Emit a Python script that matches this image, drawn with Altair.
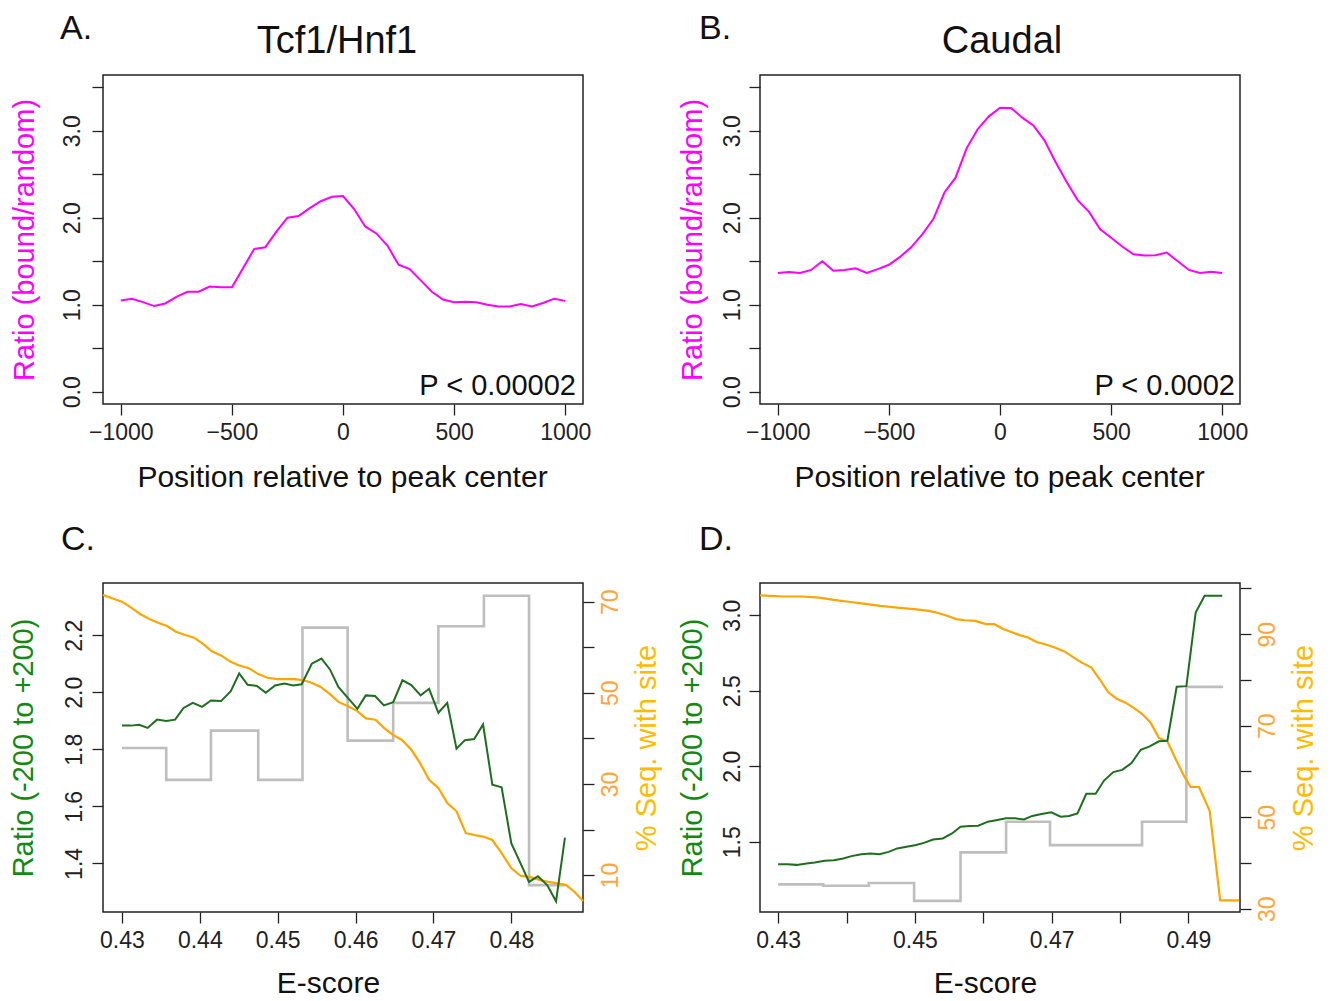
import altair as alt
import pandas as pd

# ---------------- data ----------------
pos = [-1000, -950, -900, -850, -800, -750, -700, -650, -600, -550, -500,
       -450, -400, -350, -300, -250, -200, -150, -100, -50, 0,
       50, 100, 150, 200, 250, 300, 350, 400, 450, 500,
       550, 600, 650, 700, 750, 800, 850, 900, 950, 1000]
tcf_ratio = [1.05, 1.07, 1.03, 0.985, 1.015, 1.09, 1.15, 1.15, 1.21, 1.20, 1.20,
             1.42, 1.64, 1.66, 1.84, 2.00, 2.02, 2.11, 2.19, 2.24, 2.25,
             2.10, 1.90, 1.82, 1.68, 1.46, 1.41, 1.28, 1.15, 1.06, 1.03,
             1.035, 1.03, 1.00, 0.98, 0.98, 1.01, 0.98, 1.02, 1.07, 1.045]
caudal_ratio = [1.365, 1.377, 1.365, 1.40, 1.50, 1.39, 1.40, 1.42, 1.365, 1.41, 1.46,
                1.55, 1.66, 1.81, 1.985, 2.29, 2.46, 2.80, 3.02, 3.165, 3.265,
                3.26, 3.15, 3.06, 2.89, 2.64, 2.41, 2.20, 2.07, 1.87, 1.77,
                1.67, 1.58, 1.565, 1.57, 1.60, 1.50, 1.40, 1.365, 1.38, 1.365]

# Panel C
c_green_e = [0.4300, 0.43114, 0.43222, 0.4333, 0.4345, 0.43569, 0.43683, 0.43791, 0.4391, 0.44029,
             0.44143, 0.44273, 0.44398, 0.44506, 0.44614, 0.44733, 0.44847, 0.44966, 0.45086, 0.45199,
             0.45308, 0.45438, 0.45562, 0.45671, 0.45779, 0.45898, 0.46023, 0.46131, 0.4625, 0.46364,
             0.46483, 0.46602, 0.46716, 0.46835, 0.46944, 0.47063, 0.47177, 0.47296, 0.47404, 0.47523,
             0.47637, 0.47756, 0.47875, 0.4800, 0.48108, 0.48227, 0.48341, 0.4846, 0.48574, 0.48688]
c_green_r = [1.883, 1.883, 1.886, 1.875, 1.904, 1.899, 1.904, 1.945, 1.963, 1.949,
             1.971, 1.969, 2.004, 2.066, 2.026, 2.022, 1.998, 2.024, 2.031, 2.024,
             2.028, 2.100, 2.118, 2.080, 2.019, 1.981, 1.942, 1.989, 1.987, 1.954,
             1.965, 2.042, 2.025, 1.989, 2.012, 1.928, 1.963, 1.802, 1.832, 1.836,
             1.887, 1.676, 1.667, 1.470, 1.406, 1.335, 1.355, 1.324, 1.267, 1.490]
c_orange_e = [0.42756, 0.42881, 0.4300, 0.43114, 0.43233, 0.43352, 0.43466, 0.43585, 0.43693, 0.43813,
              0.43926, 0.44045, 0.44154, 0.44273, 0.44398, 0.44506, 0.44631, 0.4475, 0.44869, 0.44993,
              0.45102, 0.4521, 0.45318, 0.45438, 0.45551, 0.45671, 0.45779, 0.45898, 0.46023, 0.46131,
              0.46256, 0.46364, 0.46483, 0.46592, 0.46716, 0.46824, 0.46944, 0.47063, 0.47177, 0.47296,
              0.47415, 0.47523, 0.47648, 0.47756, 0.47875, 0.4800, 0.48119, 0.48233, 0.48352, 0.48471,
              0.48596, 0.48704, 0.48813, 0.48921]
c_orange_p = [71.5, 70.7, 70.0, 68.75, 67.3, 66.2, 65.4, 64.6, 63.4, 62.7,
              62.1, 60.7, 59.1, 58.2, 56.8, 56.0, 55.4, 54.1, 53.3, 53.0,
              53.0, 53.0, 52.8, 52.2, 51.3, 49.7, 48.0, 47.1, 46.0, 44.4,
              44.1, 42.3, 40.7, 39.7, 37.5, 34.7, 30.9, 29.1, 25.8, 24.0,
              19.2, 18.8, 18.4, 17.7, 14.8, 11.5, 9.85, 9.6, 9.0, 8.5,
              8.2, 7.8, 6.3, 4.3]
c_gray_e = [0.4300, 0.43569, 0.44143, 0.4475, 0.45318, 0.45898, 0.46483, 0.47063, 0.47648, 0.48227, 0.48688]
c_gray_p = [37.9, 30.9, 41.7, 30.9, 64.3, 39.5, 47.8, 64.6, 71.3, 7.8, 7.8]

# Panel D
d_green_e = [0.4300, 0.43136, 0.43272, 0.43414, 0.43537, 0.43679, 0.43815, 0.43951, 0.44074, 0.44216,
             0.44352, 0.44481, 0.44617, 0.44741, 0.44877, 0.45019, 0.45142, 0.45265, 0.45407, 0.45543,
             0.45667, 0.45802, 0.45926, 0.46068, 0.46204, 0.46333, 0.46469, 0.46593, 0.46716, 0.46852,
             0.46994, 0.4713, 0.47253, 0.47377, 0.47506, 0.47642, 0.47765, 0.47901, 0.48031, 0.48167,
             0.48302, 0.48432, 0.48568, 0.48691, 0.48827, 0.48969, 0.49105, 0.49235, 0.4937, 0.49494]
d_green_r = [1.351, 1.351, 1.347, 1.356, 1.363, 1.374, 1.378, 1.389, 1.405, 1.418,
             1.422, 1.418, 1.433, 1.456, 1.467, 1.478, 1.494, 1.515, 1.522, 1.555,
             1.600, 1.604, 1.606, 1.633, 1.644, 1.655, 1.655, 1.648, 1.671, 1.684,
             1.695, 1.666, 1.671, 1.688, 1.817, 1.817, 1.905, 1.961, 1.976, 2.021,
             2.109, 2.131, 2.165, 2.169, 2.526, 2.530, 3.018, 3.129, 3.129, 3.129]
d_orange_e = [0.42735, 0.42889, 0.43074, 0.43352, 0.43599, 0.43815, 0.44031, 0.44247, 0.44494, 0.44741,
              0.44988, 0.45204, 0.45327, 0.45481, 0.45605, 0.45728, 0.45883, 0.46037, 0.4616, 0.46284,
              0.46407, 0.46531, 0.46654, 0.46778, 0.46901, 0.47025, 0.47179, 0.47302, 0.47426, 0.4758,
              0.47704, 0.47827, 0.4795, 0.48074, 0.48198, 0.48321, 0.48444, 0.48568, 0.48691, 0.48815,
              0.48938, 0.49031, 0.49154, 0.49309, 0.49463, 0.49586, 0.49741]
d_orange_p = [98.5, 98.4, 98.25, 98.25, 98.0, 97.5, 97.1, 96.7, 96.2, 95.8,
              95.5, 95.1, 94.7, 94.0, 93.3, 93.06, 92.9, 92.2, 92.2, 91.2,
              90.5, 89.8, 89.3, 88.3, 87.8, 87.2, 86.3, 85.1, 83.9, 82.7,
              80.1, 77.3, 75.9, 75.1, 73.9, 72.6, 70.7, 67.3, 66.6, 62.6,
              58.9, 56.6, 56.6, 51.4, 31.8, 31.8, 31.8]
d_gray_e = [0.4300, 0.4366, 0.44327, 0.44988, 0.45667, 0.46333, 0.46975, 0.48321, 0.48969, 0.49506]
d_gray_p = [35.3, 35.0, 35.6, 31.7, 42.3, 49.0, 43.9, 49.0, 78.5, 78.5]

# ---------------- style ----------------
FONT = "Liberation Sans"
W, H = 480, 329
MAGENTA = "#FF00FF"
GREEN_LINE = "#1f6e1f"
GREEN_TITLE = "#118a11"
ORANGE = "#FFA500"
ORANGE_LAB = "#FFA53A"
YELLOW_TITLE = "#FFBB00"
GRAY = "#BEBEBE"
INK = "#111111"


def axis(**kw):
    base = dict(domain=False, grid=False, ticks=True, tickSize=11, tickColor="#222222",
                tickWidth=1.3, labelFont=FONT, labelFontSize=23, labelColor="#222222",
                titleFont=FONT, titleFontSize=30, titleFontWeight="normal",
                labelOverlap=False, labelFlush=False)
    base.update(kw)
    return alt.Axis(**base)


def x_axis(values, title, title_x, title_y, label_expr=None, fmt=None):
    kw = dict(values=values, title=title, titleColor=INK, labelAngle=0, labelAlign="center",
              labelBaseline="top", labelPadding=6, titleX=title_x, titleY=title_y,
              titleAlign="center", titleBaseline="alphabetic", orient="bottom")
    if label_expr:
        kw["labelExpr"] = label_expr
    if fmt:
        kw["format"] = fmt
    return axis(**kw)


def y_left(values, title, color, pad, tx, label_expr=None, fmt=None):
    kw = dict(values=values, title=title, titleColor=color, orient="left", labelAngle=270,
              labelAlign="center", labelBaseline="alphabetic", labelPadding=pad,
              titleAngle=270, titleX=tx, titleY=H / 2, titleAlign="center",
              titleBaseline="alphabetic", titleFontSize=29)
    if label_expr:
        kw["labelExpr"] = label_expr
    if fmt:
        kw["format"] = fmt
    return axis(**kw)


def y_right(values):
    return axis(values=values, title="% Seq. with site", titleColor=YELLOW_TITLE, orient="right",
                labelAngle=270, labelAlign="center", labelBaseline="top", labelPadding=5,
                labelColor=ORANGE_LAB,
                labelExpr="datum.value % 20 === 10 ? datum.label : ''",
                titleAngle=270, titleX=72, titleY=H / 2, titleAlign="center",
                titleBaseline="alphabetic", titleFontSize=29)


one = pd.DataFrame({"k": [0]})


def label_text(text, x, y, size, align="left"):
    return alt.Chart(one).mark_text(text=text, font=FONT, fontSize=size, color=INK,
                                    align=align, baseline="alphabetic").encode(
        x=alt.value(x), y=alt.value(y))


def top_panel(values, letter, letter_x, title, title_x, ptext, ptext_x, pad, tx):
    df = pd.DataFrame({"pos": pos, "ratio": values})
    line = alt.Chart(df).mark_line(color=MAGENTA, strokeWidth=2).encode(
        x=alt.X("pos:Q", scale=alt.Scale(domain=[-1080, 1080], nice=False, zero=False),
                axis=x_axis([-1000, -500, 0, 500, 1000], "Position relative to peak center",
                            239, 82, fmt="d")),
        y=alt.Y("ratio:Q", scale=alt.Scale(domain=[-0.14, 3.64], nice=False, zero=False),
                axis=y_left([0, 0.5, 1, 1.5, 2, 2.5, 3, 3.5], "Ratio (bound/random)", MAGENTA, pad, tx,
                            label_expr="datum.value % 1 === 0 ? format(datum.value, '.1f') : ''")),
    )
    return alt.layer(
        line,
        label_text(letter, letter_x, -36, 34),
        label_text(title, title_x, -22, 38, align="center"),
        label_text(ptext, ptext_x, 320, 29, align="right"),
    ).properties(width=W, height=H)


def bottom_panel(ge, gr, oe, op, ye, yp, xdom, ldom, rdom, xvals, xexpr, lvals, rvals,
                 letter, letter_x, pad, tx):
    xs = alt.Scale(domain=xdom, nice=False, zero=False)
    xenc = alt.X("e:Q", scale=xs,
                 axis=x_axis(xvals, "E-score", 225, 80, label_expr=xexpr, fmt=".2f"))
    rs = alt.Scale(domain=rdom, nice=False, zero=False)
    renc = alt.Y("p:Q", scale=rs, axis=y_right(rvals))
    gray = alt.Chart(pd.DataFrame({"e": ye, "p": yp})).mark_line(
        color=GRAY, strokeWidth=2.6, interpolate="step-after").encode(x=xenc, y=renc)
    orange = alt.Chart(pd.DataFrame({"e": oe, "p": op})).mark_line(
        color=ORANGE, strokeWidth=2.2).encode(x=xenc, y=renc)
    green = alt.Chart(pd.DataFrame({"e": ge, "r": gr})).mark_line(
        color=GREEN_LINE, strokeWidth=2).encode(
        x=xenc,
        y=alt.Y("r:Q", scale=alt.Scale(domain=ldom, nice=False, zero=False),
                axis=y_left(lvals, "Ratio (-200 to +200)", GREEN_TITLE, pad, tx, fmt=".1f")),
    )
    right = alt.layer(gray, orange)
    return alt.layer(right, green, label_text(letter, letter_x, -33, 34)).resolve_scale(
        y="independent").properties(width=W, height=H)


pA = top_panel(tcf_ratio, "A.", -43, "Tcf1/Hnf1", 234, "P < 0.00002", 473, 13, -70)
pB = top_panel(caudal_ratio, "B.", -61, "Caudal", 242, "P < 0.0002", 475, 10, -59)
pC = bottom_panel(c_green_e, c_green_r, c_orange_e, c_orange_p, c_gray_e, c_gray_p,
                  [0.42757, 0.4892], [1.2296, 2.383], [1.9, 74.1],
                  [0.43, 0.44, 0.45, 0.46, 0.47, 0.48], None,
                  [1.4, 1.6, 1.8, 2.0, 2.2], [10, 20, 30, 40, 50, 60, 70],
                  "C.", -42, 11, -71)
pD = bottom_panel(d_green_e, d_green_r, d_orange_e, d_orange_p, d_gray_e, d_gray_p,
                  [0.42735, 0.49753], [1.035, 3.213], [29.27, 101.2],
                  [0.43, 0.44, 0.45, 0.46, 0.47, 0.48, 0.49],
                  "round(datum.value * 100) % 2 === 1 ? format(datum.value, '.2f') : ''",
                  [1.5, 2.0, 2.5, 3.0], [30, 40, 50, 60, 70, 80, 90, 100],
                  "D.", -61, 10, -59)

chart = alt.concat(pA, pB, pC, pD, columns=2, spacing={"row": 179, "column": 177},
                   bounds="flush").properties(
    padding={"top": 3, "left": 0, "right": 0, "bottom": 0}, background="white").configure_view(
    stroke="#222222", strokeWidth=1.5)

chart.save("out.html", embed_options={"renderer": "svg", "actions": False})
